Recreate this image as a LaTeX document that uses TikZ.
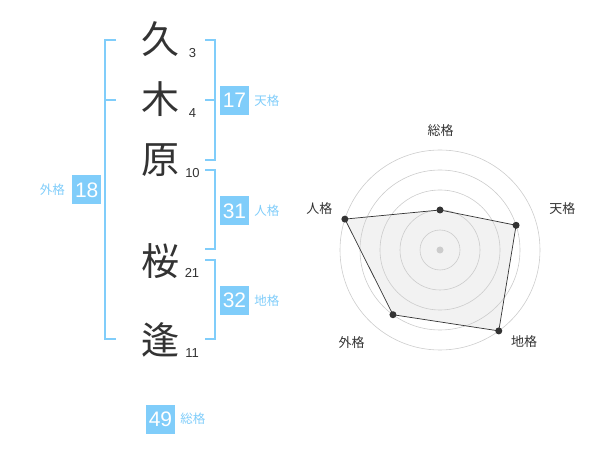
\documentclass[tikz,border=0pt]{standalone}
\usepackage{fontspec}
\setmainfont{Liberation Sans}
\newfontfamily\jpfont{Noto Sans CJK JP}
\usetikzlibrary{positioning}
\definecolor{kakublue}{HTML}{80CDFA}
\definecolor{inkgray}{HTML}{333333}
\definecolor{ringgray}{HTML}{CCCCCC}
\definecolor{areagray}{HTML}{F2F2F2}

\begin{document}
\begin{tikzpicture}[x=1pt,y=-1pt]
        \tikzstyle{every node}=[inner sep=0pt]
        \tikzstyle{kanji}=[text=inkgray, font=\jpfont\fontsize{38}{38}\selectfont]
        \tikzstyle{strokes}=[text=inkgray, font=\fontsize{13}{13}\selectfont]
        \tikzstyle{kakubox}=[fill=kakublue, text=white, minimum size=29pt, font=\fontsize{21}{21}\selectfont]
        \tikzstyle{kakulabel}=[text=kakublue, font=\jpfont\fontsize{12.5}{12.5}\selectfont]
        \tikzstyle{bracket}=[draw=kakublue, line width=2pt]
        \tikzstyle{axislabel}=[text=inkgray, font=\jpfont\fontsize{13}{13}\selectfont]
        \tikzstyle{ring}=[draw=ringgray, line width=0.6pt]
        \tikzstyle{dot}=[circle, fill=inkgray, minimum size=7pt]
        \useasboundingbox (0,0) rectangle (600,470);

        % name and stroke counts
        \node[kanji] (k1) at (160,39) {久};
        \node[kanji] (k2) at (160,99) {木};
        \node[kanji] (k3) at (160,160) {原};
        \node[kanji] (k4) at (160,261) {桜};
        \node[kanji] (k5) at (160,340) {逢};
        \node[strokes] (s1) at (192.5,53) {3};
        \node[strokes] (s2) at (192.5,113) {4};
        \node[strokes] (s3) at (192.5,173) {10};
        \node[strokes] (s4) at (192,273) {21};
        \node[strokes] (s5) at (192,353) {11};

        % brackets
        \draw[bracket] (116,40) -| (105,339) -- (116,339);
        \draw[bracket] (105,100) -- (116,100);
        \draw[bracket] (205,40) -| (215,160) -- (205,160);
        \draw[bracket] (205,100) -- (215,100);
        \draw[bracket] (205,170) -| (215,249) -- (205,249);
        \draw[bracket] (205,260) -| (215,339) -- (205,339);

        % scores
        \node[kakubox] (ten) at (234.5,100.5) {17};
        \node[kakulabel, right=5pt of ten] (tenl) {天格};
        \node[kakubox] (jin) at (234.5,211) {31};
        \node[kakulabel, right=5pt of jin] (jinl) {人格};
        \node[kakubox] (chi) at (234.5,300.3) {32};
        \node[kakulabel, right=5pt of chi] (chil) {地格};
        \node[kakubox] (gai) at (86.7,190) {18};
        \node[kakulabel, left=7pt of gai] (gail) {外格};
        \node[kakubox] (sou) at (160.5,419) {49};
        \node[kakulabel, right=5pt of sou] (soul) {総格};

        % radar chart
        \begin{scope}[shift={(440,250)}]
        \coordinate (p1) at (-90:40);
        \coordinate (p2) at (-18:80);
        \coordinate (p3) at (54:100);
        \coordinate (p4) at (126:80);
        \coordinate (p5) at (198:100);
        \fill[areagray] (p1) -- (p2) -- (p3) -- (p4) -- (p5) -- cycle;
        \foreach \r in {20,40,60,80,100}
            \draw[ring] (0,0) circle[radius=\r pt];
        \draw[inkgray, line width=0.7pt] (p1) -- (p2) -- (p3) -- (p4) -- (p5) -- cycle;
        \node[circle, fill=ringgray, minimum size=7pt] (o) at (0,0) {};
        \node[dot] (d1) at (p1) {};
        \node[dot] (d2) at (p2) {};
        \node[dot] (d3) at (p3) {};
        \node[dot] (d4) at (p4) {};
        \node[dot] (d5) at (p5) {};
        \node[axislabel] (a1) at (0.7,-119.3) {総格};
        \node[axislabel] (a2) at (122.3,-41.7) {天格};
        \node[axislabel] (a3) at (84,91.7) {地格};
        \node[axislabel] (a4) at (-88.3,92.3) {外格};
        \node[axislabel] (a5) at (-120.7,-41.7) {人格};
        \end{scope}
\end{tikzpicture}
\end{document}
